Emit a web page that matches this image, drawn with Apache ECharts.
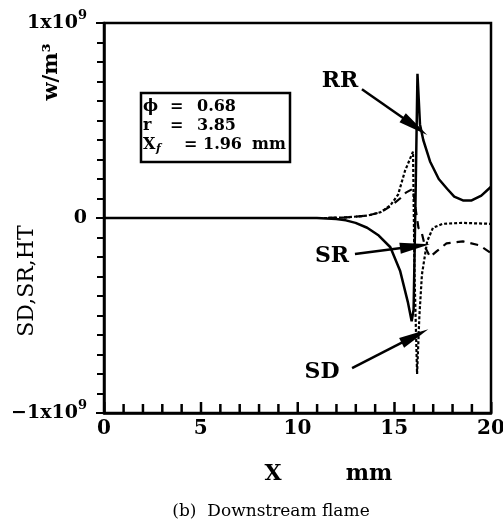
<!DOCTYPE html>
<html>
<head>
<meta charset="utf-8">
<script src="https://cdn.jsdelivr.net/npm/echarts@6/dist/echarts.min.js"></script>
<style>
  html, body { margin: 0; padding: 0; background: #fff; }
  #main { width: 503px; height: 524px; }
</style>
</head>
<body>
<div id="main"></div>
<script>
// values in units of 1e9 W/m^3, x in mm
const rrX = [0, 11, 12, 12.5, 13, 13.6, 14.2, 14.8, 15.3, 15.7, 15.9, 16.0, 16.1, 16.2, 16.33, 16.5, 16.85, 17.3, 17.73, 18.1, 18.55, 19.0, 19.5, 20];
const rrY = [0, 0, -0.005, -0.012, -0.025, -0.05, -0.09, -0.15, -0.27, -0.43, -0.53, -0.47, 0.1, 0.74, 0.48, 0.40, 0.29, 0.2, 0.15, 0.11, 0.09, 0.09, 0.115, 0.16];

const srX = [0, 11.5, 12.5, 13.6, 14.3, 14.8, 15.3, 15.6, 15.97, 16.1, 16.25, 16.43, 16.6, 16.85, 17.2, 17.7, 18.55, 19.4, 20];
const srY = [0, 0, 0.003, 0.012, 0.03, 0.06, 0.1, 0.13, 0.15, 0.05, -0.05, -0.08, -0.15, -0.2, -0.17, -0.13, -0.12, -0.14, -0.18];

const sdX = [0, 11.5, 12.5, 13.6, 14.3, 14.8, 15.2, 15.55, 15.8, 15.97, 16.05, 16.18, 16.3, 16.43, 16.7, 17.0, 17.5, 18.5, 20];
const sdY = [0, 0, 0.003, 0.012, 0.03, 0.065, 0.12, 0.24, 0.3, 0.34, -0.3, -0.8, -0.5, -0.29, -0.12, -0.05, -0.03, -0.025, -0.03];

const xTicks = [0, 5, 10, 15, 20];
const xMinorTicks = [1, 2, 3, 4, 6, 7, 8, 9, 11, 12, 13, 14, 16, 17, 18, 19];

// arrows: [tail, tip] in data coords
const arrows = [
  [[13.33, 0.66], [16.07, 0.47]],
  [[12.97, -0.185], [16.07, -0.145]],
  [[12.82, -0.77], [16.07, -0.605]]
];

const zip = (xs, ys) => xs.map((x, i) => [x, ys[i]]);

const serif = 'DejaVu Serif';
const chart = echarts.init(document.getElementById('main'));

const yLabel = v => {
  if (v === 1) return '{b|1x10}{s|9}';
  if (v === -1) return '{b|\u22121x10}{s|9}';
  if (v === 0) return '{b|0}';
  return '';
};

chart.setOption({
  backgroundColor: '#fff',
  animation: false,
  grid: {
    left: 104, right: 12, top: 23, bottom: 111,
    outerBoundsMode: 'none', containLabel: false,
    show: true, borderColor: '#000', borderWidth: 2.5, backgroundColor: 'transparent'
  },
  xAxis: {
    type: 'value', min: 0, max: 20, interval: 5, position: 'bottom',
    axisLine: { onZero: false, lineStyle: { color: '#000', width: 2.5 } },
    axisTick: { show: false },
    minorTick: { show: false },
    splitLine: { show: false },
    axisLabel: {
      margin: 6, color: '#000', fontFamily: serif, fontWeight: 'bold', fontSize: 20,
      formatter: v => xTicks.indexOf(v) >= 0 ? String(v) : ''
    }
  },
  yAxis: {
    type: 'value', min: -1, max: 1, interval: 1,
    axisLine: { lineStyle: { color: '#000', width: 2.5 } },
    axisTick: { length: 8, lineStyle: { color: '#000', width: 2 } },
    minorTick: { show: true, splitNumber: 10, length: 7, lineStyle: { color: '#000', width: 2 } },
    splitLine: { show: false },
    axisLabel: {
      margin: 17, color: '#000', formatter: yLabel,
      rich: {
        b: { fontFamily: serif, fontWeight: 'bold', fontSize: 19, color: '#000', lineHeight: 24 },
        s: { fontFamily: serif, fontWeight: 'bold', fontSize: 13, color: '#000', lineHeight: 24, padding: [0, 0, 14, 0] }
      }
    }
  },
  series: [
    {
      name: 'RR', type: 'line', data: zip(rrX, rrY), showSymbol: false, symbol: 'none',
      lineStyle: { color: '#000', width: 2.5 },
      markLine: {
        silent: true, symbol: ['none', 'triangle'], symbolSize: [11, 30],
        label: { show: false },
        lineStyle: { color: '#000', width: 2.5, type: 'solid' },
        data: arrows.map(a => [{ coord: a[0] }, { coord: a[1] }])
      }
    },
    {
      name: 'SR', type: 'line', data: zip(srX, srY), showSymbol: false, symbol: 'none',
      lineStyle: { color: '#000', width: 2.2, type: [8, 6] }
    },
    {
      name: 'SD', type: 'line', data: zip(sdX, sdY), showSymbol: false, symbol: 'none',
      lineStyle: { color: '#000', width: 2.2, type: [3, 2] }
    }
  ]
});

// x-axis ticks (inward), placed through the axis scale
const yBottom = chart.convertToPixel({ yAxisIndex: 0 }, -1);
const tickRect = (v, len) => {
  const px = chart.convertToPixel({ xAxisIndex: 0 }, v);
  return { type: 'rect', z: 100, silent: true, shape: { x: px - 1, y: yBottom - len, width: 2.5, height: len }, style: { fill: '#000' } };
};
const tickGraphics = xTicks.map(v => tickRect(v, 11)).concat(xMinorTicks.map(v => tickRect(v, 9)));

const txt = (x, y, text, font) => ({
  type: 'text', x: x, y: y, z: 11,
  style: { text: text, font: font, fill: '#000', textVerticalAlign: 'middle' }
});
const boxFont = 'bold 16px ' + serif;

chart.setOption({
  graphic: tickGraphics.concat([
    { type: 'rect', shape: { x: 141, y: 93, width: 149, height: 69 }, style: { fill: '#fff', stroke: '#000', lineWidth: 2.5 }, z: 10 },
    txt(143, 107, '\u03d5', boxFont),
    txt(170, 107, '=', boxFont),
    txt(197, 107, '0.68', boxFont),
    txt(143, 126, 'r', boxFont),
    txt(170, 126, '=', boxFont),
    txt(197, 126, '3.85', boxFont),
    txt(143, 145, 'X', boxFont),
    txt(156, 149, 'f', 'italic bold 11px ' + serif),
    txt(184, 145, '=', boxFont),
    txt(203, 145, '1.96', boxFont),
    txt(252, 145, 'mm', boxFont),

    { type: 'text', x: 340, y: 81, style: { text: 'RR', font: 'bold 22px ' + serif, fill: '#000', textAlign: 'center', textVerticalAlign: 'middle' } },
    { type: 'text', x: 332, y: 256, style: { text: 'SR', font: 'bold 22px ' + serif, fill: '#000', textAlign: 'center', textVerticalAlign: 'middle' } },
    { type: 'text', x: 322, y: 372, style: { text: 'SD', font: 'bold 22px ' + serif, fill: '#000', textAlign: 'center', textVerticalAlign: 'middle' } },

    { type: 'text', x: 52, y: 72, rotation: Math.PI / 2, style: { text: 'w/m\u00b3', font: 'bold 21px ' + serif, fill: '#000', textAlign: 'center', textVerticalAlign: 'middle' } },
    { type: 'text', x: 27, y: 281, rotation: Math.PI / 2, style: { text: 'SD,SR,HT', font: '22px ' + serif, fill: '#000', textAlign: 'center', textVerticalAlign: 'middle' } },

    { type: 'text', x: 273, y: 474, style: { text: 'X', font: 'bold 22px ' + serif, fill: '#000', textAlign: 'center', textVerticalAlign: 'middle' } },
    { type: 'text', x: 369, y: 474, style: { text: 'mm', font: 'bold 22px ' + serif, fill: '#000', textAlign: 'center', textVerticalAlign: 'middle' } },
    { type: 'text', x: 271, y: 512, style: { text: '(b)  Downstream flame', font: '17px ' + serif, fill: '#000', textAlign: 'center', textVerticalAlign: 'middle' } }
  ])
});
</script>
</body>
</html>
